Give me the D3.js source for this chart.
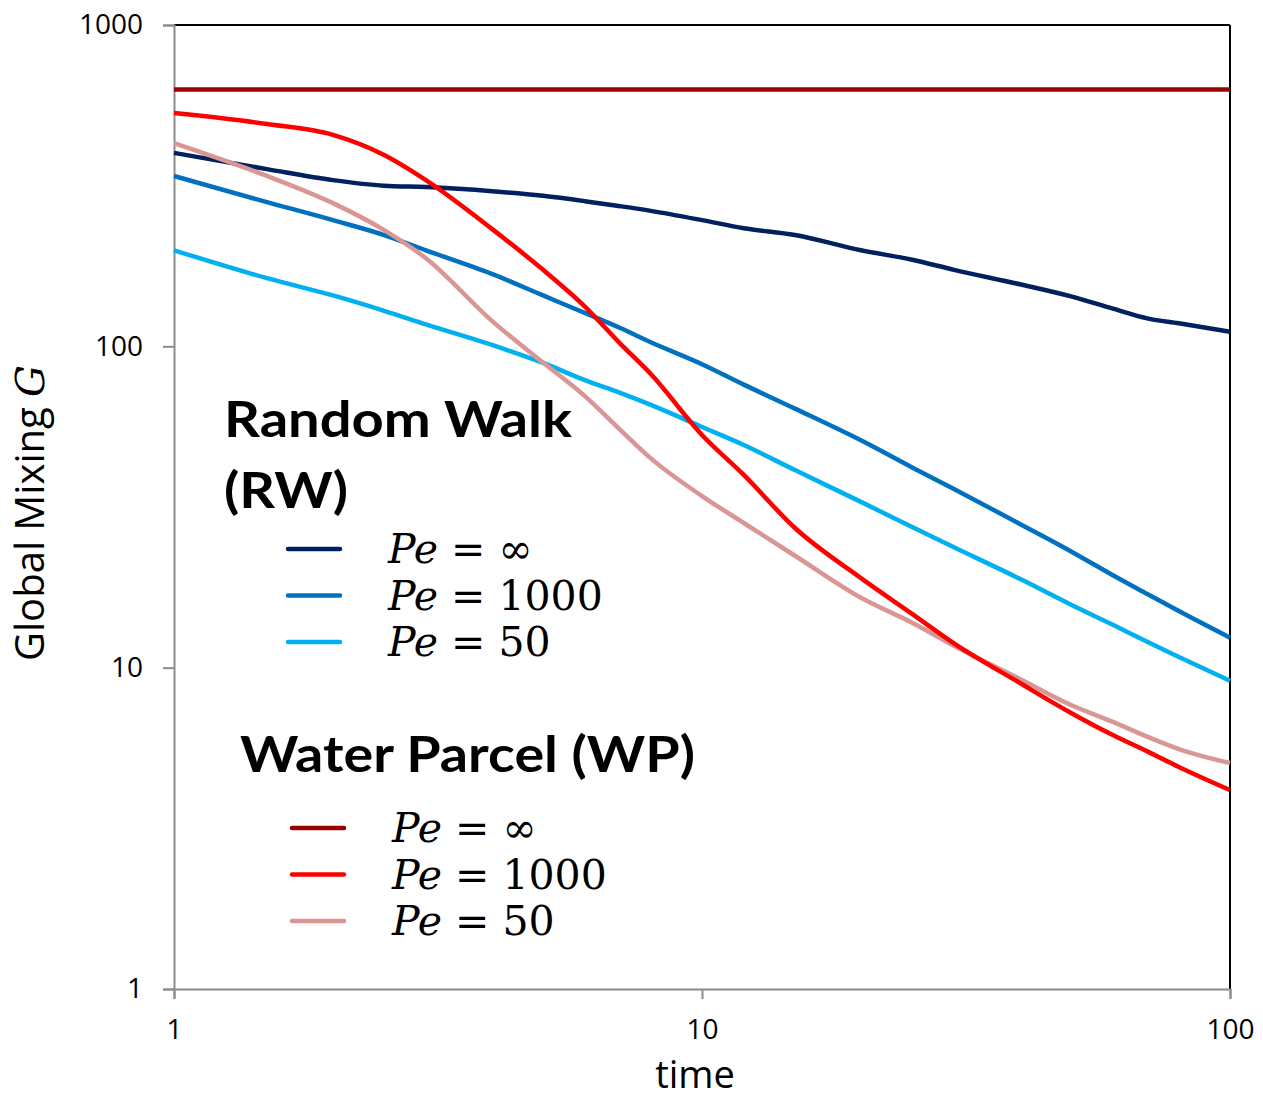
<!DOCTYPE html>
<html>
<head>
<meta charset="utf-8">
<script src="https://cdn.jsdelivr.net/npm/d3@7"></script>
<style>
  body { margin: 0; background: #fff; }
  svg { display: block; }
</style>
</head>
<body>
<div id="chart"></div>
<script>
// time samples (shared by every series)
var times = [1, 1.5, 2, 2.5, 3, 4, 5, 6, 7, 8, 10, 12, 15, 20, 25, 30, 40, 50, 60, 70, 80, 100];

// Random Walk (RW)
var rwInf  = [400, 356, 329, 316, 313, 304, 294, 283, 273, 264, 247, 233, 222, 199, 186, 173, 156, 143, 131, 122, 118, 111];
var rw1000 = [339, 281, 247, 222, 199, 168, 144, 127, 114, 103, 88, 76, 64, 51, 42, 36, 28.0, 23.0, 19.4, 16.9, 15.0, 12.4];
var rw50   = [199, 163, 144, 129, 117, 101, 88.8, 78.5, 71.6, 65.7, 56.1, 49.3, 41.2, 32.8, 27.4, 23.7, 18.9, 15.7, 13.6, 12.0, 10.8, 9.1];

// Water Parcel (WP)
var wpInf  = [630, 630, 630, 630, 630, 630, 630, 630, 630, 630, 630, 630, 630, 630, 630, 630, 630, 630, 630, 630, 630, 630];
var wp1000 = [532, 492, 455, 394, 329, 232, 173, 133, 102, 82, 53, 39.8, 27.2, 19.0, 14.7, 11.9, 8.96, 7.23, 6.17, 5.47, 4.91, 4.16];
var wp50   = [429, 339, 279, 230, 188, 120, 89, 70, 55, 44.8, 34.2, 28.2, 22.3, 16.5, 13.8, 11.7, 9.22, 7.65, 6.78, 6.08, 5.58, 5.05];

var xTicks = [1, 10, 100];
var yTicks = [1, 10, 100, 1000];

var legendRW = ["∞", "1000", "50"];
var legendWP = ["∞", "1000", "50"];

var colRW = ["#002060", "#0070C0", "#00B0F0"];
var colWP = ["#9B0000", "#FF0000", "#D99694"];

var W = 1263, H = 1102;
var margin = {left: 174, right: 33, top: 25, bottom: 113};

var svg = d3.select("#chart").append("svg")
  .attr("width", W)
  .attr("height", H);

var x = d3.scaleLog().domain([1, 100]).range([margin.left, W - margin.right]);
var y = d3.scaleLog().domain([1, 1000]).range([H - margin.bottom, margin.top]);

// frame: top and right black
svg.append("line")
  .attr("x1", x(1)).attr("x2", x(100))
  .attr("y1", y(1000)).attr("y2", y(1000))
  .attr("stroke", "#000").attr("stroke-width", 2);
svg.append("line")
  .attr("x1", x(100)).attr("x2", x(100))
  .attr("y1", y(1000)).attr("y2", y(1))
  .attr("stroke", "#000").attr("stroke-width", 2);

// axes
var yAxis = svg.append("g")
  .attr("transform", "translate(" + x(1) + ",0)")
  .call(d3.axisLeft(y).tickValues(yTicks).tickFormat(d3.format("d")).tickSize(11).tickPadding(20));
var xAxis = svg.append("g")
  .attr("transform", "translate(0," + y(1) + ")")
  .call(d3.axisBottom(x).tickValues(xTicks).tickFormat(d3.format("d")).tickSize(10).tickPadding(20));

[yAxis, xAxis].forEach(function(a) {
  a.attr("font-size", null).attr("font-family", null);
  a.select(".domain").attr("stroke", "#8c8c8c").attr("stroke-width", 2);
  a.selectAll(".tick line").attr("stroke", "#8c8c8c").attr("stroke-width", 2);
  a.selectAll(".tick text")
    .attr("fill", "#000")
    .style("font-family", "'Open Sans', 'Liberation Sans', sans-serif")
    .style("font-size", "28px");
});

// axis titles
svg.append("text")
  .attr("x", 695).attr("y", 1088)
  .attr("text-anchor", "middle")
  .style("font-family", "'Open Sans', 'Liberation Sans', sans-serif")
  .style("font-size", "38px")
  .text("time");

var yt = svg.append("text")
  .attr("transform", "translate(44,513) rotate(-90)")
  .attr("text-anchor", "middle")
  .style("font-family", "'Open Sans', 'Liberation Sans', sans-serif")
  .style("font-size", "40px");
yt.append("tspan").text("Global Mixing ");
yt.append("tspan").attr("font-style", "italic").style("font-family", "'DejaVu Serif', serif").text("G");

// data lines
var line = d3.line()
  .x(function(d) { return x(d[0]); })
  .y(function(d) { return y(d[1]); })
  .curve(d3.curveMonotoneX);

var series = [
  {vals: rwInf,  col: colRW[0]},
  {vals: rw1000, col: colRW[1]},
  {vals: rw50,   col: colRW[2]},
  {vals: wp50,   col: colWP[2]},
  {vals: wp1000, col: colWP[1]},
  {vals: wpInf,  col: colWP[0]}
];

series.forEach(function(s) {
  svg.append("path")
    .datum(d3.zip(times, s.vals))
    .attr("fill", "none")
    .attr("stroke", s.col)
    .attr("stroke-width", 4.5)
    .attr("stroke-linejoin", "round")
    .attr("d", line);
});

// legends
function legendBlock(titleLines, widths, tx, ty, lx, ly0, labels, cols) {
  titleLines.forEach(function(t, i) {
    svg.append("text")
      .attr("x", tx).attr("y", ty + i * 71)
      .attr("textLength", widths[i])
      .attr("lengthAdjust", "spacingAndGlyphs")
      .style("font-family", "Lato, 'Open Sans', sans-serif")
      .style("font-weight", "bold")
      .style("font-size", "50px")
      .text(t);
  });
  labels.forEach(function(lab, i) {
    var yy = ly0 + i * 46.5;
    svg.append("line")
      .attr("x1", lx).attr("x2", lx + 52)
      .attr("y1", yy).attr("y2", yy)
      .attr("stroke", cols[i]).attr("stroke-width", 4.5)
      .attr("stroke-linecap", "round");
    var t = svg.append("text")
      .attr("x", lx + 100).attr("y", yy + 14)
      .style("font-family", "'DejaVu Serif', 'Liberation Serif', serif")
      .style("font-size", "41px");
    t.append("tspan").attr("font-style", "italic").text("Pe");
    t.append("tspan").text(" = " + lab);
  });
}

legendBlock(["Random Walk", "(RW)"], [348, 124], 224, 437, 288, 549, legendRW, colRW);
legendBlock(["Water Parcel (WP)"], [455], 240, 772, 292, 828, legendWP, colWP);
</script>
</body>
</html>
